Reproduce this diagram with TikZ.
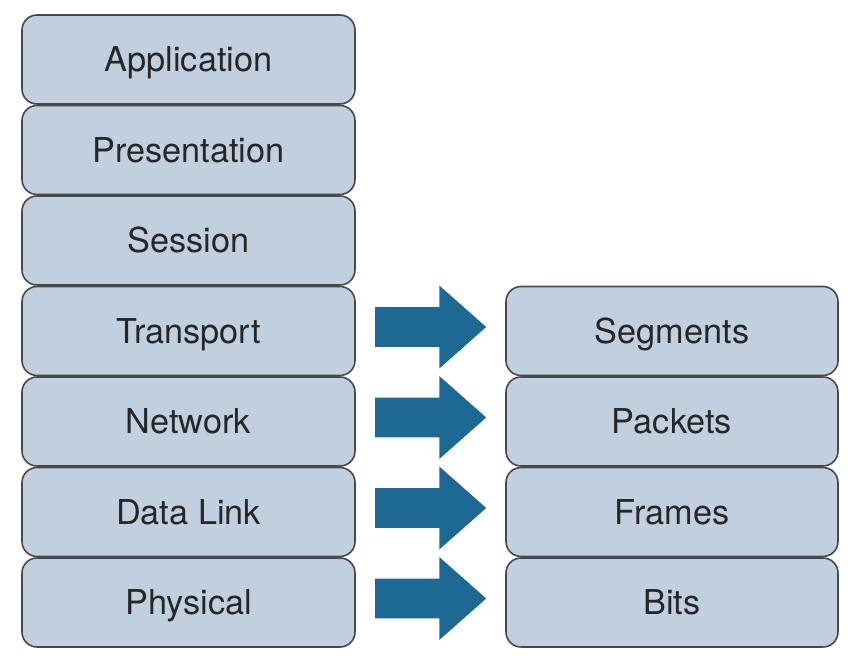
\documentclass[tikz,border=0pt]{standalone}
\usepackage{fontspec}
\setmainfont{TeX Gyre Heros}
\usetikzlibrary{shapes,
                arrows,
                positioning}
\definecolor{layerfill}{RGB}{192,208,222}
\definecolor{layerline}{RGB}{72,72,72}
\definecolor{arrowblue}{RGB}{30,104,148}
\tikzset{layer/.style =
   {rectangle,
    rounded corners=0.3cm,
    draw=layerline,
    line width=0.9pt,
    fill=layerfill,
    text=black!85,
    text centered,
    font=\fontsize{19.5}{23}\selectfont,
    text height=14pt,
    text depth=0pt,
    minimum width=6.66cm,
    minimum height=1.78cm}}
\tikzset{pdu/.style =
   {layer,
    minimum width=6.64cm}}
\tikzset{blockarrow/.style =
   {single arrow,
    auto=false,
    fill=arrowblue,
    draw=none,
    inner xsep=0pt,
    inner ysep=0.39cm,
    minimum height=2.22cm,
    single arrow head extend=0.43cm,
    single arrow tip angle=83,
    xshift=-0.22cm,
    yshift=0.08cm}}

\begin{document}
\begin{tikzpicture}[auto]

        \useasboundingbox (0,0) rectangle (17.16,-13.34);

        \node [layer] (app) at (3.77,-1.19) {Application};

        \node [layer,
               below of = app,
               node distance = 1.81cm] (pres) {Presentation};

        \node [layer,
               below of = pres,
               node distance = 1.81cm] (sess) {Session};

        \node [layer,
               below of = sess,
               node distance = 1.81cm] (trans) {Transport};

        \node [layer,
               below of = trans,
               node distance = 1.81cm] (net) {Network};

        \node [layer,
               below of = net,
               node distance = 1.81cm] (link) {Data Link};

        \node [layer,
               below of = link,
               node distance = 1.81cm] (phys) {Physical};

        \node [pdu,
               right of = trans,
               node distance = 9.67cm] (seg) {Segments};

        \node [pdu,
               below of = seg,
               node distance = 1.81cm] (pkt) {Packets};

        \node [pdu,
               below of = pkt,
               node distance = 1.81cm] (frm) {Frames};

        \node [pdu,
               below of = frm,
               node distance = 1.81cm] (bits) {Bits};

        \path (trans) -- (seg)  node [blockarrow, midway] (a1) {};
        \path (net)   -- (pkt)  node [blockarrow, midway] (a2) {};
        \path (link)  -- (frm)  node [blockarrow, midway] (a3) {};
        \path (phys)  -- (bits) node [blockarrow, midway] (a4) {};

    \end{tikzpicture}
\end{document}
